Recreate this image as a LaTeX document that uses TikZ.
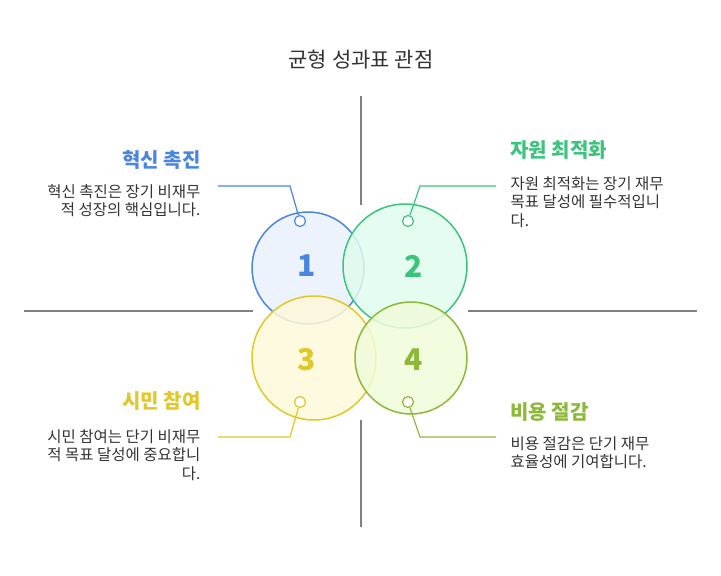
\documentclass[tikz,border=0pt]{standalone}
\usepackage{fontspec}
\setmainfont{Noto Sans CJK KR}
\definecolor{cb}{HTML}{4A86E0}\definecolor{fb}{HTML}{EAF1FD}
\definecolor{cg}{HTML}{3CC47C}\definecolor{fg}{HTML}{E0FBEE}
\definecolor{cy}{HTML}{E0C72A}\definecolor{fy}{HTML}{FEF9D9}
\definecolor{co}{HTML}{8DB83A}\definecolor{fo}{HTML}{F0FBD9}
\definecolor{gl}{HTML}{808080}\definecolor{tx}{HTML}{333333}
\begin{document}
\begin{tikzpicture}[x=1pt,y=-1pt,
 big/.style={circle,line width=1.5pt,inner sep=0pt,fill opacity=0.85},
 dot/.style={circle,line width=1.2pt,fill=white,minimum size=11pt,inner sep=0pt},
 num/.style={font=\fontsize{30}{30}\selectfont\bfseries},
 ttl/.style={font=\fontsize{20}{22}\selectfont\bfseries},
 desc/.style={font=\fontsize{15.5}{18.5}\selectfont,text=tx},
 axis/.style={gl,line width=1.2pt},
 conn/.style={line width=1.2pt}]
\useasboundingbox (0,0) rectangle (721,576);
\node[font=\fontsize{21}{22}\selectfont,text=tx] (title) at (361,60) {균형 성과표 관점};
\coordinate (v1) at (361,96); \coordinate (v2) at (361,205);
\coordinate (v3) at (361,420); \coordinate (v4) at (361,527);
\coordinate (h1) at (24,311); \coordinate (h2) at (253,311);
\coordinate (h3) at (468,311); \coordinate (h4) at (697,311);
\draw[axis] (v1)--(v2); \draw[axis] (v3)--(v4);
\draw[axis] (h1)--(h2); \draw[axis] (h3)--(h4);
\node[big,draw=cb,fill=fb,minimum size=112pt] (c1) at (308,268) {};
\node[big,draw=cg,fill=fg,minimum size=124pt] (c2) at (405,266) {};
\node[big,draw=cy,fill=fy,minimum size=124pt] (c3) at (314,358) {};
\node[big,draw=co,fill=fo,minimum size=112pt] (c4) at (411,358) {};
\node[num,text=cb] at (307,266) {1};
\node[num,text=cg] at (414,266) {2};
\node[num,text=cy] at (307,360) {3};
\node[num,text=co] at (414,360) {4};
\node[dot,draw=cb] (d1) at (300,221) {};
\node[dot,draw=cg] (d2) at (408,221) {};
\node[dot,draw=cy] (d3) at (300,402) {};
\node[dot,draw=co] (d4) at (408,402) {};
\coordinate (k1) at (290,186); \coordinate (e1) at (218,186);
\coordinate (k2) at (420,186); \coordinate (e2) at (496,186);
\coordinate (k3) at (290,437); \coordinate (e3) at (218,437);
\coordinate (k4) at (420,437); \coordinate (e4) at (496,437);
\draw[conn,cb] (d1)--(k1)--(e1);
\draw[conn,cg] (d2)--(k2)--(e2);
\draw[conn,cy] (d3)--(k3)--(e3);
\draw[conn,co] (d4)--(k4)--(e4);
\node[ttl,text=cb,anchor=east] (t1) at (204,160) {혁신 촉진};
\node[desc,anchor=north east,align=right] (s1) at (204,181) {혁신 촉진은 장기 비재무\\적 성장의 핵심입니다.};
\node[ttl,text=cg,anchor=west] (t2) at (507,150) {자원 최적화};
\node[desc,anchor=north west,align=left] (s2) at (507,173) {자원 최적화는 장기 재무\\목표 달성에 필수적입니\\다.};
\node[ttl,text=cy,anchor=east] (t3) at (204,401) {시민 참여};
\node[desc,anchor=north east,align=right] (s3) at (204,426) {시민 참여는 단기 비재무\\적 목표 달성에 중요합니\\다.};
\node[ttl,text=co,anchor=west] (t4) at (507,412) {비용 절감};
\node[desc,anchor=north west,align=left] (s4) at (507,433) {비용 절감은 단기 재무\\효율성에 기여합니다.};
\end{tikzpicture}
\end{document}
